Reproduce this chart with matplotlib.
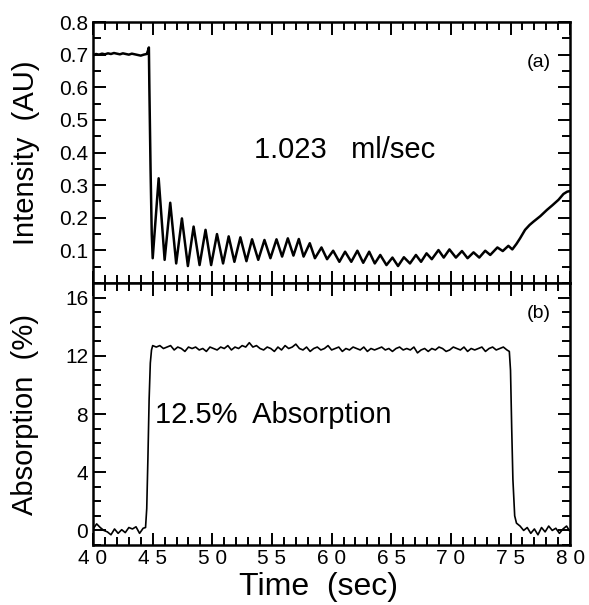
import numpy as np
import matplotlib
matplotlib.use("Agg")
import matplotlib.pyplot as plt
from matplotlib.ticker import MultipleLocator, FixedLocator, FixedFormatter

plt.rcParams['font.family'] = ['Liberation Sans', 'DejaVu Sans']

# ---- panel (a): intensity trace ----
t_int = [40.0, 40.25, 40.5, 40.75, 41.0, 41.25, 41.5, 41.75, 42.0, 42.25,
         42.5, 42.75, 43.0, 43.25, 43.5, 43.75, 44.0, 44.25, 44.5, 44.6,
         44.68, 44.72, 44.76, 44.82, 44.92,
         45.0, 45.5, 46.0, 46.47, 46.97, 47.45, 47.95, 48.43, 48.93, 49.43,
         49.9, 50.39, 50.9, 51.37, 51.85, 52.35, 52.86, 53.33, 53.85, 54.37,
         54.87, 55.38, 55.85, 56.33, 56.8, 57.25, 57.65, 58.17, 58.6, 59.15,
         59.62, 60.13, 60.65, 61.13, 61.65, 62.16, 62.65, 63.15, 63.62, 64.08,
         64.6, 65.1, 65.57, 66.06, 66.57, 67.07, 67.5, 67.96, 68.4, 68.96,
         69.4, 69.88, 70.42, 70.93, 71.4, 71.9, 72.38, 72.88, 73.3, 73.9,
         74.35, 74.82, 75.15, 75.5, 75.8, 76.22, 76.6, 76.92, 77.5, 78.05,
         78.5, 79.02, 79.44, 79.75, 80.0]
intensity = [0.698, 0.702, 0.700, 0.703, 0.701, 0.704, 0.702, 0.705, 0.703, 0.701,
             0.704, 0.702, 0.700, 0.703, 0.701, 0.699, 0.697, 0.700, 0.702, 0.712,
             0.722, 0.600, 0.500, 0.350, 0.150,
             0.076, 0.321, 0.071, 0.246, 0.060, 0.198, 0.052, 0.173, 0.055, 0.163,
             0.055, 0.150, 0.060, 0.143, 0.065, 0.140, 0.067, 0.134, 0.071, 0.132,
             0.076, 0.134, 0.081, 0.137, 0.084, 0.135, 0.081, 0.122, 0.076, 0.109,
             0.073, 0.099, 0.065, 0.096, 0.065, 0.099, 0.062, 0.096, 0.060, 0.086,
             0.055, 0.078, 0.052, 0.079, 0.060, 0.086, 0.065, 0.091, 0.073, 0.101,
             0.078, 0.103, 0.078, 0.098, 0.076, 0.094, 0.078, 0.099, 0.086, 0.109,
             0.098, 0.114, 0.103, 0.120, 0.137, 0.163, 0.178, 0.188, 0.205, 0.224,
             0.238, 0.255, 0.273, 0.280, 0.282]

# ---- panel (b): absorption trace ----
t_base1 = [40.0, 40.3, 40.6, 40.9, 41.2, 41.5, 41.8, 42.1, 42.4, 42.7,
           43.0, 43.3, 43.6, 43.9, 44.2, 44.4, 44.5, 44.6, 44.7, 44.8,
           44.9, 45.0]
abs_base1 = [0.1, 0.45, 0.2, 0.0, -0.1, -0.3, 0.1, -0.2, 0.05, -0.15,
             0.2, 0.1, 0.25, -0.2, 0.15, 0.2, 1.5, 5.0, 9.0, 11.5,
             12.4, 12.7]
plateau = [12.6, 12.7, 12.5, 12.6, 12.7, 12.4, 12.6, 12.5, 12.3, 12.6,
           12.5, 12.6, 12.4, 12.5, 12.3, 12.6, 12.5, 12.4, 12.6, 12.5,
           12.7, 12.4, 12.6, 12.5, 12.7, 12.6, 12.9, 12.6, 12.7, 12.5,
           12.4, 12.6, 12.5, 12.3, 12.6, 12.4, 12.7, 12.5, 12.6, 12.8,
           12.5, 12.4, 12.6, 12.3, 12.5, 12.6, 12.4, 12.5, 12.7, 12.4,
           12.5, 12.6, 12.3, 12.5, 12.4, 12.6, 12.5, 12.4, 12.6, 12.3,
           12.5, 12.4, 12.5, 12.6, 12.4, 12.5, 12.3, 12.5, 12.6, 12.4,
           12.5, 12.4, 12.6, 12.2, 12.4, 12.5, 12.3, 12.5, 12.4, 12.6,
           12.5, 12.3, 12.4, 12.6, 12.5, 12.4, 12.6, 12.3, 12.5, 12.4,
           12.5, 12.6, 12.3, 12.5, 12.6, 12.4, 12.5, 12.6, 12.4]
t_plateau = np.arange(len(plateau)) * 0.3 + 45.3
t_base2 = [74.9, 75.0, 75.1, 75.2, 75.35, 75.5, 75.8, 76.1, 76.4, 76.7,
           77.0, 77.3, 77.6, 77.9, 78.2, 78.5, 78.8, 79.1, 79.4, 79.7, 80.0]
abs_base2 = [12.3, 11.0, 7.0, 3.5, 1.0, 0.5, 0.3, 0.0, 0.2, -0.2,
             0.1, -0.3, 0.2, -0.1, 0.3, 0.0, 0.15, -0.2, 0.1, 0.3, -0.1]

t_abs = list(t_base1) + list(t_plateau) + t_base2
absorption = abs_base1 + plateau + abs_base2

x_ticks = [40, 45, 50, 55, 60, 65, 70, 75, 80]
x_labels = ['4 0', '4 5', '5 0', '5 5', '6 0', '6 5', '7 0', '7 5', '8 0']
int_ticks = [0.1, 0.2, 0.3, 0.4, 0.5, 0.6, 0.7, 0.8]
int_labels = ['0.1', '0.2', '0.3', '0.4', '0.5', '0.6', '0.7', '0.8']
abs_ticks = [0, 4, 8, 12, 16]

fig = plt.figure(figsize=(5.89, 6.05), dpi=100)
ax1 = fig.add_axes([0.158, 0.5322, 0.81, 0.4314])
ax2 = fig.add_axes([0.158, 0.0992, 0.81, 0.4330])

ax1.plot(t_int, intensity, color='black', lw=1.8, solid_joinstyle='round')
ax2.plot(t_abs, absorption, color='black', lw=1.2)

for ax in (ax1, ax2):
    ax.set_xlim(40, 80)
    ax.xaxis.set_major_locator(FixedLocator(x_ticks))
    ax.xaxis.set_minor_locator(MultipleLocator(1))
    ax.tick_params(which='both', direction='in', top=True, right=True,
                   width=1.4, labelsize=15)
    ax.tick_params(which='major', length=9)
    ax.tick_params(which='minor', length=5.5)
    for s in ax.spines.values():
        s.set_linewidth(1.8)

ax1.tick_params(axis='x', labelbottom=False)

ax1.set_ylim(0, 0.8)
ax1.yaxis.set_major_locator(FixedLocator(int_ticks))
ax1.yaxis.set_major_formatter(FixedFormatter(int_labels))
ax1.yaxis.set_minor_locator(MultipleLocator(0.05))

ax2.set_ylim(-1, 17)
ax2.yaxis.set_major_locator(FixedLocator(abs_ticks))
ax2.yaxis.set_minor_locator(MultipleLocator(1))
ax2.xaxis.set_major_formatter(FixedFormatter(x_labels))
ax2.tick_params(axis='x', pad=3)

ax1.set_ylabel('Intensity  (AU)', fontsize=21, labelpad=14)
ax2.set_ylabel('Absorption  (%)', fontsize=21, labelpad=19)
ax2.set_xlabel('Time  (sec)', fontsize=23, labelpad=0)
ax2.xaxis.set_label_coords(0.472, -0.105)

ax1.text(0.528, 0.51, '1.023   ml/sec', transform=ax1.transAxes,
         fontsize=21, ha='center', va='center')
ax1.text(0.935, 0.845, '(a)', transform=ax1.transAxes,
         fontsize=14, ha='center', va='center')
ax2.text(0.377, 0.496, '12.5%  Absorption', transform=ax2.transAxes,
         fontsize=21, ha='center', va='center')
ax2.text(0.935, 0.885, '(b)', transform=ax2.transAxes,
         fontsize=14, ha='center', va='center')

fig.savefig('out.png', dpi=100)
